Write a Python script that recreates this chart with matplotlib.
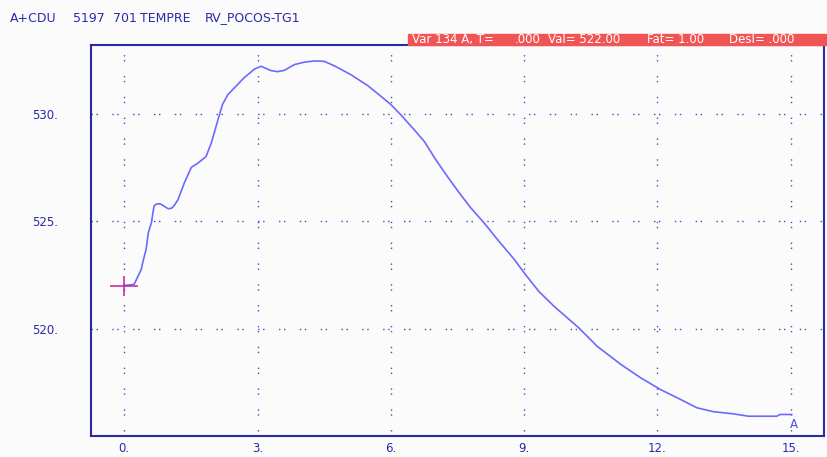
import matplotlib.pyplot as plt
from matplotlib.patches import Rectangle

# trend of Var 134 A (time vs value)
tempo = [0, 0.22, 0.38, 0.43, 0.49, 0.54, 0.61, 0.67, 0.73, 0.81, 0.92, 0.99,
         1.07, 1.14, 1.21, 1.35, 1.51, 1.66, 1.84, 1.96, 2.11, 2.21, 2.33,
         2.48, 2.70, 2.93, 3.08, 3.30, 3.45, 3.60, 3.83, 4.05, 4.28, 4.50,
         4.72, 5.10, 5.48, 5.78, 6.00, 6.22, 6.52, 6.75, 7.01, 7.27, 7.54,
         7.80, 8.10, 8.40, 8.78, 9.03, 9.33, 9.67, 10.23, 10.64, 11.17, 11.62,
         12.07, 12.52, 12.89, 13.26, 13.71, 14.05, 14.69, 14.76, 15.02]
valor = [522.0, 522.05, 522.74, 523.2, 523.67, 524.45, 524.92, 525.7, 525.8,
         525.8, 525.66, 525.57, 525.6, 525.77, 526.0, 526.77, 527.5, 527.7,
         528.0, 528.64, 529.72, 530.42, 530.88, 531.2, 531.67, 532.07, 532.2,
         532.0, 531.95, 532.01, 532.28, 532.39, 532.45, 532.43, 532.23, 531.81,
         531.3, 530.8, 530.42, 529.95, 529.26, 528.71, 527.86, 527.08, 526.31,
         525.61, 524.91, 524.14, 523.21, 522.51, 521.73, 521.04, 520.03, 519.18,
         518.34, 517.71, 517.16, 516.7, 516.31, 516.13, 516.03, 515.92, 515.92,
         516.0, 516.0]

xticks = [0, 3, 6, 9, 12, 15]
yticks = [520, 525, 530]
cursor_t = 0.0
cursor_val = 522.00
titulo = ['A+CDU', '5197', '701', 'TEMPRE', 'RV_POCOS-TG1']

azul = '#2a2aa8'
plt.rcParams['font.family'] = ['DejaVu Sans']

fig = plt.figure(figsize=(8.27, 4.57), dpi=100, facecolor='#fbfbfb')
ax = fig.add_axes([0.110, 0.046, 0.8864, 0.856])
ax.set_facecolor('#fbfbfb')

ax.set_xlim(-0.75, 15.75)
ax.set_ylim(515.0, 533.2)

# dotted grid like the original screen
for x in xticks:
    ax.axvline(x, color='#4848c0', lw=1.0, ls=(0, (1.0, 2.6, 1.0, 10.4)))
for y in yticks:
    ax.axhline(y, color='#4848c0', lw=1.0, ls=(0, (1.0, 2.6, 1.0, 10.4)))

ax.plot(tempo, valor, color='#6a6aff', lw=1.2)
# cursor cross
ax.plot([cursor_t], [cursor_val], marker='_', color='#c0209a', ms=20, mew=1.1)
ax.plot([cursor_t], [cursor_val], marker='|', color='#c0209a', ms=14.5, mew=1.1)
ax.text(tempo[-1] + 0.05, valor[-1] - 0.15, 'A', color='#5050e0',
        fontsize=8.5, ha='center', va='top')

ax.set_xticks(xticks)
ax.set_xticklabels([f'{x}.' for x in xticks])
ax.set_yticks(yticks)
ax.set_yticklabels([f'{y}.' for y in yticks])
ax.tick_params(length=0, colors=azul, labelsize=8.5)
ax.tick_params(axis='y', pad=24)
ax.tick_params(axis='x', pad=4)
for s in ax.spines.values():
    s.set_color(azul)
    s.set_linewidth(1.5)

# header words, placed like on the original screen
for palavra, xp in zip(titulo, [10, 72.7, 112.7, 140, 205]):
    fig.text(xp / 827, 1 - 18 / 457, palavra, color=azul, fontsize=9,
             va='center')

# red status bar above the plot
fig.patches.append(Rectangle((408 / 827, 1 - 45 / 457), 419 / 827, 11 / 457,
                             transform=fig.transFigure, color='#f05454',
                             zorder=0))
yb = 1 - 39.5 / 457
fig.text(412 / 827, yb, 'Var 134 A, T=', color='white', fontsize=8.5, va='center')
fig.text(515 / 827, yb, f'{cursor_t:.3f}'.lstrip('0'), color='white',
         fontsize=8.5, va='center')
fig.text(548 / 827, yb, f'Val= {cursor_val:.2f}', color='white', fontsize=8.5,
         va='center')
fig.text(647 / 827, yb, 'Fat= 1.00', color='white', fontsize=8.5, va='center')
fig.text(729 / 827, yb, 'Desl= .000', color='white', fontsize=8.5, va='center')

fig.savefig('out.png', dpi=100, facecolor=fig.get_facecolor())
